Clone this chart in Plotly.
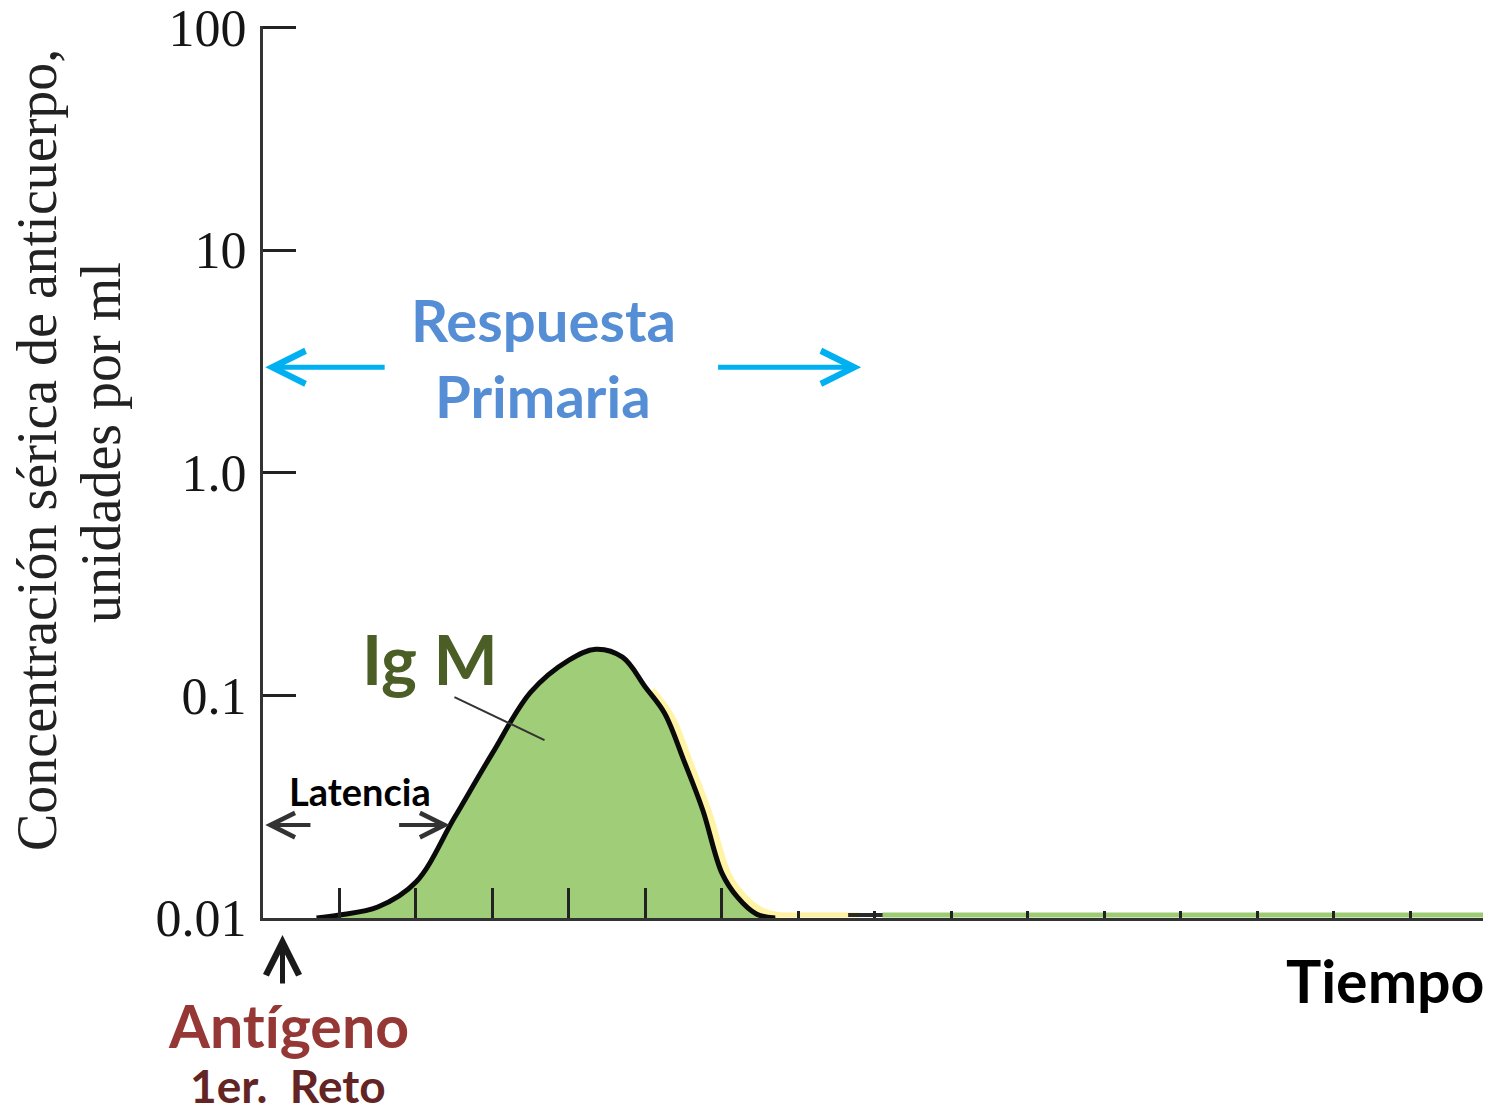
import numpy as np
import plotly.graph_objects as go

# ---------------- data ----------------
time_igm = [0.70, 1.0, 1.5, 2.0, 2.5, 3.0, 3.5, 4.0, 4.35, 4.7, 5.0, 5.25, 5.5, 5.75, 6.0, 6.2, 6.45, 6.7]
conc_igm = [0.0100, 0.01032, 0.0112, 0.01451, 0.02812, 0.05504, 0.1034, 0.1440, 0.1612, 0.1485,
            0.1089, 0.0832, 0.0512, 0.0305, 0.0159, 0.01243, 0.01042, 0.0100]
floor_conc = 0.01

fringe_time = [5.08, 5.33, 5.58, 5.83, 6.08, 6.3, 6.55, 6.75]
fringe_conc = [0.105, 0.080, 0.049, 0.029, 0.0155, 0.0122, 0.0106, 0.0102]

tail_yellow_time = [6.7, 7.8]
tail_dark_time = [7.65, 8.2]
tail_green_time = [8.1, 15.95]
tail_conc = [0.01032, 0.01032]

ytick_vals = [0.01, 0.1, 1, 10, 100]
ytick_text = ["0.01", "0.1", "1.0", "10", "100"]
xtick_long = [1, 2, 3, 4, 5, 6]
xtick_short = [7, 8, 9, 10, 11, 12, 13, 14, 15]
x_range = [0, 15.95]
y_range_log = [-2.0, 2.007]

igm_pointer_time = [2.503, 3.68]
igm_pointer_conc = [0.0982, 0.063]

latency_level = 0.02615
response_level = 2.976

W, H = 1491, 1115
L, R, T, B = 263, 8, 26, 197
PW, PH = W - L - R, H - T - B


def px(xpix):
    return (xpix - L) / PW


def py(ypix):
    return (H - B - ypix) / PH


SANS = "Lato"
SERIF = "Liberation Serif"

fig = go.Figure()

# yellow fringe (beneath everything)
fig.add_trace(go.Scatter(x=fringe_time, y=fringe_conc, mode="lines",
                         line=dict(color="#FFF3A6", width=8, shape="spline"),
                         showlegend=False, hoverinfo="skip"))
# baseline for fill
fig.add_trace(go.Scatter(x=time_igm, y=[floor_conc] * len(time_igm), mode="lines",
                         line=dict(width=0, color="rgba(0,0,0,0)"), hoverinfo="skip",
                         showlegend=False))
# filled IgM curve
fig.add_trace(go.Scatter(x=time_igm, y=conc_igm, mode="lines", fill="tonexty",
                         fillcolor="#A0CD78",
                         line=dict(color="#0a0a0a", width=5, shape="spline", smoothing=1.0),
                         showlegend=False, hoverinfo="skip"))
# pointer line for Ig M
fig.add_trace(go.Scatter(x=igm_pointer_time, y=igm_pointer_conc, mode="lines",
                         line=dict(color="#333333", width=2), showlegend=False, hoverinfo="skip"))

# tail strips on overlay axis
fig.add_trace(go.Scatter(x=tail_yellow_time, y=tail_conc, mode="lines", xaxis="x2",
                         line=dict(color="#FFF1A0", width=5), showlegend=False, hoverinfo="skip"))
fig.add_trace(go.Scatter(x=tail_dark_time, y=tail_conc, mode="lines", xaxis="x2",
                         line=dict(color="#2a2a2a", width=4), showlegend=False, hoverinfo="skip"))
fig.add_trace(go.Scatter(x=tail_green_time, y=tail_conc, mode="lines", xaxis="x2",
                         line=dict(color="#9CCB74", width=5), showlegend=False, hoverinfo="skip"))

ann = []
# Latencia arrows
ly = float(np.log10(latency_level))
ann.append(dict(x=0.03, y=ly, ax=0.64, ay=ly, xref="x", yref="y", axref="x", ayref="y", text="",
                showarrow=True, arrowhead=5, arrowsize=1.2, arrowwidth=4, arrowcolor="#333333"))
ann.append(dict(x=2.44, y=ly, ax=1.76, ay=ly, xref="x", yref="y", axref="x", ayref="y", text="",
                showarrow=True, arrowhead=5, arrowsize=1.2, arrowwidth=4, arrowcolor="#333333"))
# Respuesta arrows
ry = float(np.log10(response_level))
ann.append(dict(x=0.03, y=ry, ax=1.61, ay=ry, xref="x", yref="y", axref="x", ayref="y", text="",
                showarrow=True, arrowhead=5, arrowsize=1.3, arrowwidth=5, arrowcolor="#00B0F0"))
ann.append(dict(x=7.82, y=ry, ax=5.93, ay=ry, xref="x", yref="y", axref="x", ayref="y", text="",
                showarrow=True, arrowhead=5, arrowsize=1.3, arrowwidth=5, arrowcolor="#00B0F0"))
# Antigen arrow
ann.append(dict(x=0.255, y=py(935), xref="x", yref="paper", ax=0, ay=50, text="",
                showarrow=True, arrowhead=5, arrowsize=1.3, arrowwidth=5, arrowcolor="#1a1a1a"))


def txt(t, x, y, size, color, xanchor="center", yanchor="middle", family=SANS, bold=True, angle=0):
    return dict(text=(f"<b>{t}</b>" if bold else t), x=x, y=y, xref="paper", yref="paper",
                xanchor=xanchor, yanchor=yanchor, showarrow=False, textangle=angle,
                font=dict(family=family, size=size, color=color))


ann.append(txt("Respuesta", px(543), py(320), 58, "#558ED5"))
ann.append(txt("Primaria", px(543), py(395), 58, "#558ED5"))
ann.append(txt("Ig M", px(430), py(658), 68, "#4A5E26"))
ann.append(txt("Latencia", px(360), py(791), 38, "#000000"))
ann.append(txt("Ant\u200cígeno", px(288), py(1025), 59, "#953735"))
ann.append(txt("1er.\u00a0 Reto", px(288), py(1115), 46, "#632523", yanchor="bottom"))
ann.append(txt("Tiempo", px(1486), py(981), 59, "#000000", xanchor="right"))
ann.append(txt("Concentración sérica de anticuerpo,", px(37), py(450), 56, "#222222",
               family=SERIF, bold=False, angle=-90))
ann.append(txt("unidades por ml", px(101), py(443), 56, "#222222",
               family=SERIF, bold=False, angle=-90))

fig.update_layout(
    width=W, height=H,
    margin=dict(l=L, r=R, t=T, b=B, pad=0, autoexpand=False),
    paper_bgcolor="white", plot_bgcolor="white",
    showlegend=False,
    annotations=ann,
    xaxis=dict(range=x_range, showgrid=False, zeroline=False, showline=True, linecolor="#333333", linewidth=3,
               ticks="inside", tickvals=xtick_long, ticklen=30, tickwidth=3, tickcolor="#222222",
               showticklabels=False, fixedrange=True, automargin=False),
    xaxis2=dict(range=x_range, overlaying="x", anchor="y", side="bottom", showgrid=False, zeroline=False,
                showline=False, ticks="inside", tickvals=xtick_short, ticklen=7, tickwidth=3,
                tickcolor="#222222", showticklabels=False, automargin=False),
    yaxis=dict(type="log", range=y_range_log, showgrid=False, zeroline=False, showline=True,
               linecolor="#333333", linewidth=3, ticks="inside", tickvals=ytick_vals, ticktext=ytick_text,
               ticklen=33, tickwidth=3, tickcolor="#222222", ticklabelstandoff=3, automargin=False,
               ticklabeloverflow="allow",
               tickfont=dict(family=SERIF, size=52, color="#151515")),
)

fig.write_html("out.html", config={"displayModeBar": False},
               post_script="document.body.style.margin='0px';")
